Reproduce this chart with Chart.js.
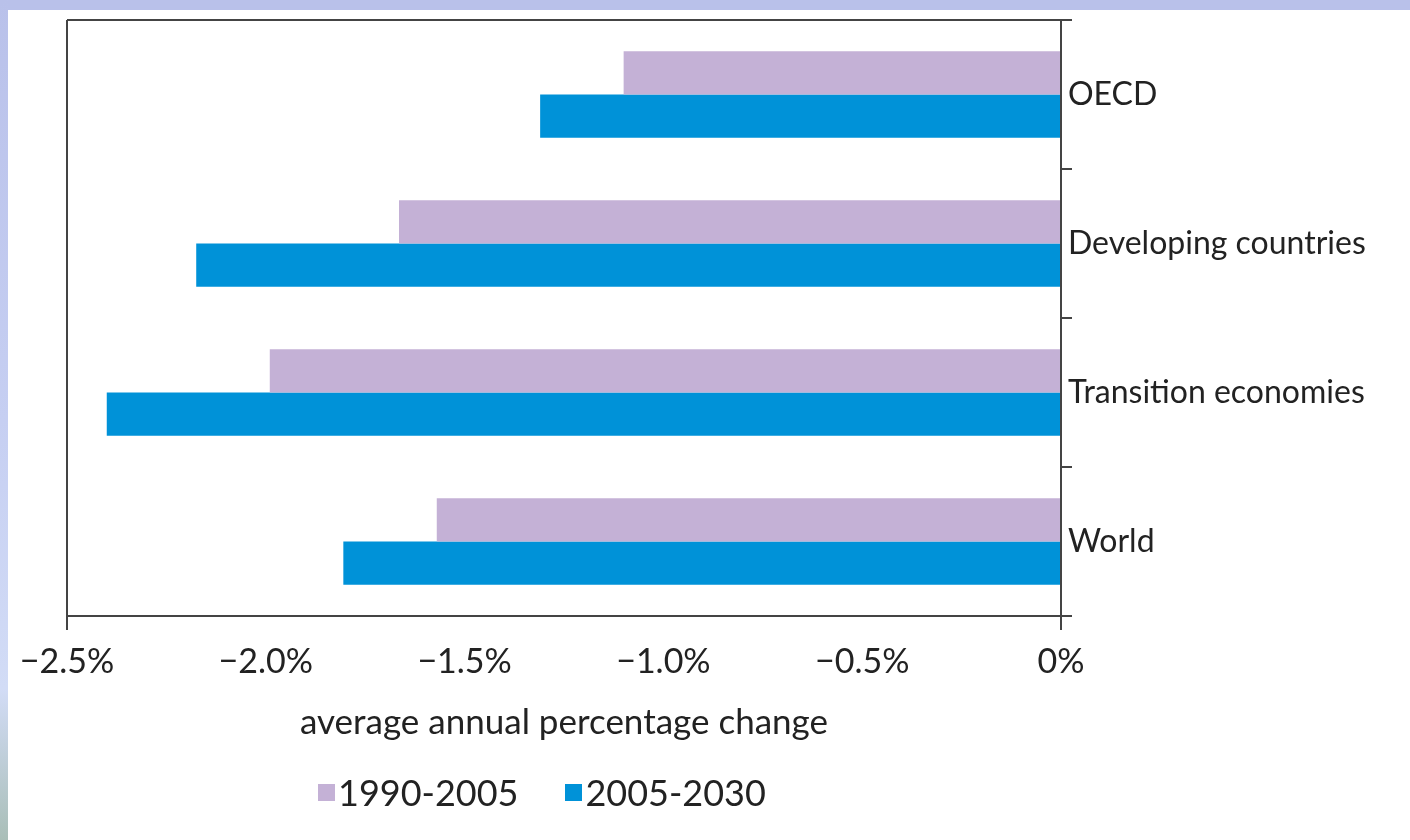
<!DOCTYPE html>
<html>
<head>
<meta charset="utf-8">
<title>Average annual percentage change</title>
<script src="https://cdn.jsdelivr.net/npm/chart.js@4.4.1/dist/chart.umd.min.js"></script>
<style>
    html, body { margin: 0; padding: 0; background: #ffffff; }
    body { width: 1410px; height: 840px; position: relative; overflow: hidden; font-family: 'Lato', sans-serif; }
    .bandaSuperior { position: absolute; left: 0; top: 0; width: 1410px; height: 10px; background: #b9c1ea; }
    .bandaIzquierda { position: absolute; left: 0; top: 0; width: 8px; height: 840px;
        background: linear-gradient(#b9c1ea 0%, #c6cff2 50%, #d2dcf6 82%, #a9beb7 100%); }
    #grafico { position: absolute; left: 0; top: 0; }
    .leyenda { position: absolute; left: 318px; top: 770px; display: flex; align-items: center; color: #222; font-size: 36px; }
    .item { display: flex; align-items: center; margin-right: 47px; }
    .cuadro { width: 17px; height: 17px; margin-right: 3px; }
</style>
</head>
<body>
<div class="bandaSuperior"></div>
<div class="bandaIzquierda"></div>
<canvas id="grafico" width="1410" height="840"></canvas>
<div class="leyenda" id="leyenda"></div>

<script>
    // Datos del gráfico
    const categorias = ['OECD', 'Developing countries', 'Transition economies', 'World'];
    const series = ['1990-2005', '2005-2030'];
    const valores1990 = [-1.10, -1.665, -1.99, -1.57];
    const valores2005 = [-1.31, -2.175, -2.40, -1.805];
    const colores = ['#c4b1d6', '#0092d8'];
    const etiquetasX = ['\u22122.5%', '\u22122.0%', '\u22121.5%', '\u22121.0%', '\u22120.5%', '0%'];
    const tituloX = 'average annual percentage change';

    const colorEje = '#444444';
    const fuente = 'Lato, sans-serif';

    // Leyenda en HTML
    const leyenda = document.getElementById('leyenda');
    series.forEach(function (nombre, i) {
        const item = document.createElement('div');
        item.className = 'item';
        item.innerHTML = '<span class="cuadro" style="background:' + colores[i] + '"></span><span>' + nombre + '</span>';
        leyenda.appendChild(item);
    });

    const ctx = document.getElementById('grafico').getContext('2d');
    const grafico = new Chart(ctx, {
        type: 'bar',
        data: {
            labels: categorias,
            datasets: [
                { label: series[0], data: valores1990, backgroundColor: colores[0] },
                { label: series[1], data: valores2005, backgroundColor: colores[1] }
            ]
        },
        options: {
            indexAxis: 'y',
            responsive: false,
            animation: false,
            categoryPercentage: 0.58,
            barPercentage: 1.0,
            layout: { padding: { left: 67, top: 20, right: 0, bottom: 0 } },
            plugins: {
                legend: { display: false },
                tooltip: { enabled: false }
            },
            scales: {
                x: {
                    min: -2.5,
                    max: 0,
                    afterFit: function (escala) { escala.height = 224; },
                    ticks: {
                        stepSize: 0.5,
                        padding: 12,
                        color: '#222',
                        font: { family: fuente, size: 34 },
                        callback: function (valor, indice) { return etiquetasX[indice]; }
                    },
                    grid: {
                        drawOnChartArea: true,
                        tickLength: 14,
                        lineWidth: 2,
                        color: function (c) {
                            return (c.tick && (c.tick.value === -2.5 || c.tick.value === 0)) ? colorEje : 'rgba(0,0,0,0)';
                        }
                    },
                    border: { display: true, color: colorEje, width: 2 },
                    title: {
                        display: true,
                        text: tituloX,
                        color: '#222',
                        font: { family: fuente, size: 35 },
                        padding: { top: 0, bottom: 96 }
                    }
                },
                y: {
                    position: 'right',
                    afterFit: function (escala) { escala.width = 349; },
                    ticks: {
                        padding: -4,
                        color: '#222',
                        font: { family: fuente, size: 32 }
                    },
                    grid: {
                        offset: true,
                        drawOnChartArea: true,
                        tickLength: 11,
                        lineWidth: 2,
                        tickColor: colorEje,
                        // solo el borde superior e inferior del recuadro
                        color: function (c) {
                            return (c.type !== 'tick' || c.index === 0) ? colorEje : 'rgba(0,0,0,0)';
                        }
                    },
                    border: { display: true, color: colorEje, width: 2 }
                }
            }
        }
    });
</script>
</body>
</html>
